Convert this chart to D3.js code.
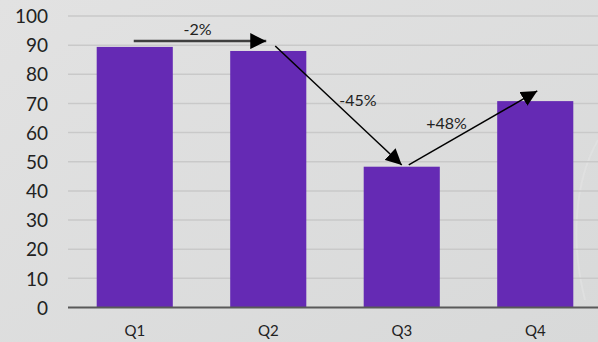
<!DOCTYPE html>
<html><head><meta charset="utf-8">
<script src="https://cdn.jsdelivr.net/npm/d3@7"></script>
<style>html,body{margin:0;padding:0;overflow:hidden;}</style>
</head><body>
<svg id="c" width="598" height="342"></svg>
<script>
const categories = ["Q1", "Q2", "Q3", "Q4"];
const values = [89.4, 88.0, 48.3, 70.8];
const yTicks = [0, 10, 20, 30, 40, 50, 60, 70, 80, 90, 100];
const changeLabels = ["-2%", "-45%", "+48%"];

const svg = d3.select("#c");
const W = 598, H = 342;
const defs = svg.append("defs");
const g = defs.append("linearGradient").attr("id", "bg").attr("x1", 0).attr("y1", 0).attr("x2", 1).attr("y2", 1);
g.append("stop").attr("offset", "0").attr("stop-color", "#e2e2e2");
g.append("stop").attr("offset", "1").attr("stop-color", "#d8d9d9");
svg.append("rect").attr("width", W).attr("height", H).attr("fill", "url(#bg)");
// faint watermark swirl
svg.append("path").attr("d", "M598,140 C575,180 570,240 585,300")
  .attr("fill", "none").attr("stroke", "#e6e6e6").attr("stroke-width", 2).attr("opacity", 0.5);

defs.append("marker").attr("id", "ah").attr("viewBox", "0 0 16 16")
  .attr("refX", 16).attr("refY", 8).attr("markerWidth", 16).attr("markerHeight", 16)
  .attr("markerUnits", "userSpaceOnUse").attr("orient", "auto")
  .append("path").attr("d", "M0,0 L16,8 L0,16 Z").attr("fill", "#000");

const x = d3.scaleBand().domain(categories).range([68, 602]).paddingInner(0.43).paddingOuter(0.215);
const y = d3.scaleLinear().domain([0, 100]).range([307.5, 16]);

// gridlines
svg.append("g").selectAll("line").data(yTicks.filter(d => d > 0)).join("line")
  .attr("x1", 68).attr("x2", W).attr("y1", d => y(d)).attr("y2", d => y(d))
  .attr("stroke", "#c9c9c9").attr("stroke-width", 1.5);

// y axis labels
const yAxis = d3.axisLeft(y).tickValues(yTicks).tickSize(0).tickPadding(0);
const ya = svg.append("g").attr("transform", "translate(48,0)").call(yAxis);
ya.select(".domain").remove();
ya.selectAll("text").attr("font-family", "Lato, 'Open Sans', sans-serif").attr("font-size", 19)
  .attr("fill", "#222").attr("dy", "0.35em");

// bars
svg.append("g").selectAll("rect").data(values).join("rect")
  .attr("x", (d, i) => x(categories[i])).attr("width", x.bandwidth())
  .attr("y", d => y(d)).attr("height", d => y(0) - y(d))
  .attr("fill", "#652ab4");

// baseline
svg.append("line").attr("x1", 68).attr("x2", W).attr("y1", y(0)).attr("y2", y(0))
  .attr("stroke", "#595959").attr("stroke-width", 2);

// x axis
const xAxis = d3.axisBottom(x).tickSize(0).tickPadding(0);
const xa = svg.append("g").attr("transform", "translate(0,325)").call(xAxis);
xa.select(".domain").remove();
xa.selectAll("text").attr("font-family", "Lato, 'Open Sans', sans-serif").attr("font-size", 15)
  .attr("fill", "#222").attr("dy", "0.71em");

// arrows
const cx = c => x(c) + x.bandwidth() / 2;
const arrows = [
  {x1: cx("Q1") - 1, y1: y(91.4), x2: cx("Q2") - 2, y2: y(91.4), w: 2.5, col: "#3f3f3f"},
  {x1: cx("Q2") + 7, y1: y(89.7), x2: cx("Q3"), y2: y(48.9), w: 1.5, col: "#000"},
  {x1: cx("Q3") + 7, y1: y(48.9), x2: cx("Q4") + 2, y2: y(74.3), w: 1.5, col: "#000"}
];
svg.append("g").selectAll("line").data(arrows).join("line")
  .attr("x1", d => d.x1).attr("y1", d => d.y1).attr("x2", d => d.x2).attr("y2", d => d.y2)
  .attr("stroke", d => d.col).attr("stroke-width", d => d.w).attr("marker-end", "url(#ah)");

const labelPos = [
  {x: (cx("Q1") + cx("Q2")) / 2 - 4, y: 35},
  {x: (cx("Q2") + cx("Q3")) / 2 + 23, y: 106},
  {x: (cx("Q3") + cx("Q4")) / 2 - 22, y: 129}
];
svg.append("g").selectAll("text").data(changeLabels).join("text")
  .attr("x", (d, i) => labelPos[i].x).attr("y", (d, i) => labelPos[i].y)
  .attr("text-anchor", "middle").attr("font-family", "Lato, 'Open Sans', sans-serif")
  .attr("font-size", 16).attr("fill", "#222").text(d => d);
</script>
</body></html>
